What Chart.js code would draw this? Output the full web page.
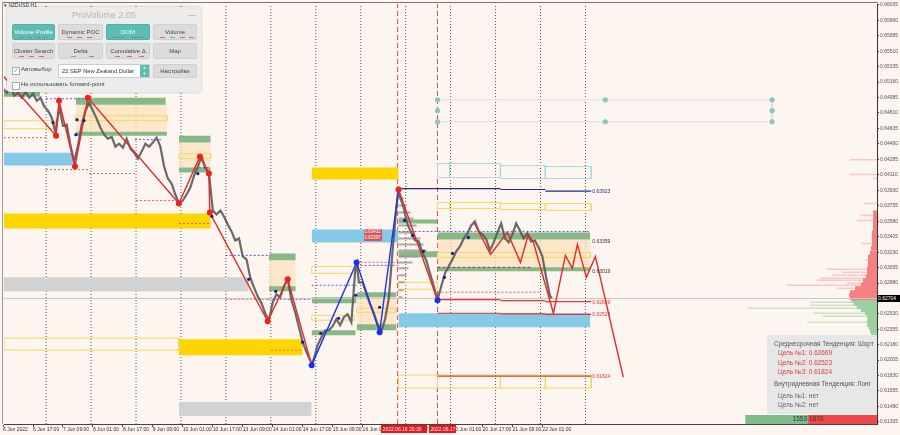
<!DOCTYPE html>
<html>
<head>
<meta charset="utf-8">
<script src="https://cdn.jsdelivr.net/npm/chart.js@4.4.0/dist/chart.umd.min.js"></script>
<style>
  body { margin: 0; background: #fdf5f0; font-family: "Liberation Sans", Arial, sans-serif; }
  #wrap { position: relative; width: 900px; height: 435px; overflow: hidden; background: #fdf5f0; }
  #chart { position: absolute; left: 0; top: 0; }
  #frame { position: absolute; left: 2px; top: 2px; width: 875px; height: 421px; border-top: 1px solid #777; border-left: 1px solid #999; pointer-events: none; }
  .tag { position: absolute; white-space: nowrap; font-size: 5px; line-height: 6px; }
  .evt { position: absolute; top: 425px; height: 8px; line-height: 8px; background: #e8151b; color: #fff; font-size: 5px; overflow: hidden; white-space: nowrap; padding-left: 2px; box-sizing: border-box; }
  #sym { position: absolute; left: 4px; top: 2px; font-size: 5px; color: #333; }
  #panel { position: absolute; left: 7px; top: 7px; width: 194px; height: 85px; background: #ececec; border-radius: 3px; box-shadow: 0 0 3px rgba(0,0,0,0.25); }
  #panel .ttl { position: absolute; left: 0; top: 3px; width: 100%; text-align: center; font-size: 9px; color: #b4b4b4; }
  #panel .min { position: absolute; right: 5px; top: 3px; font-size: 8px; color: #999; }
  .btn { position: absolute; height: 16px; line-height: 15px; text-align: center; font-size: 6px; color: #444; background: #dcdcdc; border: 1px solid #d0d0d0; border-radius: 2px; box-sizing: border-box; white-space: nowrap; overflow: hidden; }
  .btn.on { background: #5cbdb2; color: #fff; border-color: #52b1a6; }
  .btn i { position: absolute; bottom: 1px; height: 1px; width: 5px; background: #d66; }
  .btn i.g { background: #6b6; }
  .btn i.k { background: #888; }
  .chk { position: absolute; width: 6px; height: 6px; background: #fff; border: 1px solid #aaa; overflow: hidden; }
  .txt { position: absolute; font-size: 6px; color: #444; white-space: nowrap; }
  #drop { position: absolute; left: 51px; top: 57px; width: 92px; height: 14px; background: #fff; border: 1px solid #ccc; box-sizing: border-box; font-size: 5.8px; line-height: 12px; padding-left: 3px; color: #333; white-space: nowrap; overflow: hidden; }
  #drop span { position: absolute; right: 0; top: 0; width: 9px; height: 12px; background: #5cbdb2; color: #fff; font-size: 4px; line-height: 6px; text-align: center; }
  #info { position: absolute; left: 767px; top: 335px; width: 110px; height: 79px; background: #e7e7e7; border-radius: 4px 0 0 0; font-size: 6.4px; }
  #info div { position: absolute; white-space: nowrap; }
  .vol { position: absolute; top: 415px; font-size: 6.5px; color: #333; }
</style>
</head>
<body>
<div id="wrap">
  <canvas id="chart" width="900" height="435"></canvas>
  <div id="frame"></div>
  <div id="sym">&#9662; NZDUSD,H1</div>
  <div id="panel">
    <div class="ttl">ProVolume 2.05</div>
    <div class="min">&#8212;</div>
    <div class="btn on" style="left:5px;top:17px;width:43px">Volume Profile<i class="k" style="left:6px"></i><i class="k" style="left:14px"></i><i class="k" style="left:22px"></i><i class="k" style="left:30px"></i></div>
    <div class="btn" style="left:51px;top:17px;width:45px">Dynamic POC<i style="left:8px"></i><i style="left:18px"></i><i style="left:28px"></i></div>
    <div class="btn on" style="left:99px;top:17px;width:44px">DOM<i class="k" style="left:6px;width:12px"></i><i class="k" style="left:24px;width:12px"></i></div>
    <div class="btn" style="left:146px;top:17px;width:44px">Volume<i style="left:6px"></i><i class="g" style="left:16px"></i><i style="left:26px"></i><i style="left:35px"></i></div>
    <div class="btn" style="left:5px;top:36px;width:43px">Cluster Search<i style="left:6px"></i><i style="left:16px"></i><i style="left:26px"></i></div>
    <div class="btn" style="left:51px;top:36px;width:45px">Delta<i class="g" style="left:12px"></i><i style="left:30px"></i></div>
    <div class="btn" style="left:99px;top:36px;width:44px">Cumulative &#916;<i style="left:8px"></i><i style="left:20px"></i><i style="left:32px"></i></div>
    <div class="btn" style="left:146px;top:36px;width:44px">Map</div>
    <div class="chk" style="left:5px;top:60px;color:#5cbdb2;font-size:7px;line-height:6px">&#10003;</div>
    <div class="txt" style="left:14px;top:59px">Автовыбор</div>
    <div id="drop">22 SEP New Zealand Dollar<span>&#9650;<br>&#9660;</span></div>
    <div class="btn" style="left:146px;top:57px;width:44px;height:14px;line-height:13px">Настройки</div>
    <div class="chk" style="left:5px;top:75px"></div>
    <div class="txt" style="left:14px;top:74px">Не использовать forward-point</div>
  </div>
  <div id="info">
    <div style="left:7px;top:5px;color:#555">Среднесрочная Тенденция: Шорт</div>
    <div id="t1" style="left:11px;top:14px;color:#e23a3a"></div>
    <div id="t2" style="left:11px;top:24px;color:#e23a3a"></div>
    <div id="t3" style="left:11px;top:33px;color:#e23a3a"></div>
    <div style="left:7px;top:45px;color:#555">Внутридневная Тенденция: Лонг</div>
    <div style="left:11px;top:57px;color:#666">Цель №1: нет</div>
    <div style="left:11px;top:66px;color:#666">Цель №2: нет</div>
  </div>
</div>
<script>
// axis range: x = H1 bar index, y = price
const xMin = 0.5;
const xMax = 466.7;
const yMin = 0.6128;
const yMax = 0.66046;

const yTicks = [0.66035, 0.6586, 0.65685, 0.6551, 0.65335, 0.6516, 0.64985, 0.6481, 0.64635, 0.6446, 0.64285, 0.6411, 0.6393, 0.63755, 0.6358, 0.63405, 0.6323, 0.63055, 0.6288, 0.6253, 0.62355, 0.6218, 0.62005, 0.6183, 0.61655, 0.6148, 0.61305];
const xTickBars = [0, 16, 32, 48, 64, 80, 96, 112, 128, 144, 160, 176, 192, 208, 224, 240, 256, 272, 288];
const xTickLabels = ["6 Jun 2022", "6 Jun 17:00", "7 Jun 09:00", "8 Jun 01:00", "8 Jun 17:00", "9 Jun 09:00", "10 Jun 01:00", "10 Jun 17:00", "13 Jun 09:00", "14 Jun 01:00", "14 Jun 17:00", "15 Jun 09:00", "16 Jun 01:00", "16 Jun 17:00", "17 Jun 09:00", "20 Jun 01:00", "20 Jun 17:00", "21 Jun 09:00", "22 Jun 01:00"];
const daySeparators = [23, 47, 71, 95, 119, 143, 167, 191, 215, 239, 263, 287, 311];
const eventBars = [210.7, 232];
const eventLabels = ["2022.06.16 20:30", "2022.06.17 17:30"];

const priceSeries = [
  [0, 0.65084], [2, 0.65039], [4, 0.65107], [6, 0.65005], [8, 0.65039], [10, 0.64982], [12, 0.6505], [14, 0.64982],
  [16, 0.65027], [18, 0.64948], [20, 0.64982], [22, 0.6488], [24, 0.64835], [26, 0.64756], [28, 0.64586], [30, 0.6488],
  [32, 0.64665], [34, 0.64676], [36, 0.64439], [38, 0.64258], [40, 0.64439], [42, 0.64676], [44, 0.64835], [46, 0.64925],
  [48, 0.64835], [50, 0.64744], [52, 0.64642], [54, 0.64563], [56, 0.64518], [58, 0.6454], [60, 0.64427], [62, 0.64461],
  [64, 0.64416], [66, 0.64518], [68, 0.64405], [70, 0.64359], [72, 0.64291], [74, 0.64371], [76, 0.64461], [78, 0.64427],
  [80, 0.64473], [82, 0.64529], [84, 0.64427], [86, 0.64201], [88, 0.64065], [90, 0.64008], [92, 0.63884], [94, 0.63782],
  [96, 0.63816], [98, 0.63884], [100, 0.63963], [102, 0.64099], [104, 0.64201], [106, 0.64314], [108, 0.6419], [110, 0.64122],
  [112, 0.63703], [114, 0.63658], [116, 0.63703], [118, 0.63635], [120, 0.63544], [122, 0.63465], [124, 0.63363], [126, 0.63386],
  [128, 0.63182], [130, 0.63148], [132, 0.62944], [134, 0.62831], [136, 0.62729], [138, 0.6265], [140, 0.62537], [142, 0.62458],
  [144, 0.62661], [146, 0.62752], [148, 0.62718], [150, 0.62843], [152, 0.62922], [154, 0.62684], [156, 0.62548], [158, 0.62378],
  [160, 0.62209], [162, 0.62095], [164, 0.62005], [165, 0.61948], [166, 0.62027], [168, 0.62175], [170, 0.62265], [172, 0.62344],
  [174, 0.62344], [176, 0.6239], [178, 0.62469], [180, 0.62401], [182, 0.62492], [184, 0.62526], [186, 0.62435], [188, 0.63001],
  [189, 0.63092], [190, 0.62888], [192, 0.62888], [194, 0.62763], [196, 0.62639], [198, 0.62537], [200, 0.62412], [202, 0.62333],
  [204, 0.62469], [206, 0.62707], [208, 0.6325], [210, 0.63725], [211, 0.6393], [212, 0.63861], [214, 0.63725], [216, 0.63544],
  [218, 0.63454], [220, 0.63363], [222, 0.63352], [224, 0.63216], [226, 0.63137], [228, 0.6299], [230, 0.62843], [232, 0.62684],
  [234, 0.62843], [236, 0.6299], [238, 0.63069], [240, 0.63148], [242, 0.63239], [244, 0.63295], [246, 0.63386], [248, 0.63442],
  [250, 0.63533], [252, 0.63578], [254, 0.63465], [256, 0.63431], [258, 0.63375], [260, 0.6325], [262, 0.63341], [264, 0.63454],
  [266, 0.63556], [268, 0.63386], [270, 0.63341], [272, 0.63431], [274, 0.63556], [276, 0.63476], [278, 0.63386], [280, 0.63442],
  [282, 0.63352], [284, 0.63363], [286, 0.63284], [288, 0.63182], [290, 0.62944], [292, 0.62741], [293, 0.62704]
];
const lastPrice = 0.62704;

// zigzags
const zigzagRed1 = [[0, 0.65231], [28.3, 0.64552], [29.9, 0.64948], [38.4, 0.64201], [45.3, 0.64982], [93.9, 0.63782], [105.1, 0.64314], [109.9, 0.64122], [110.4, 0.6368], [141.3, 0.62446], [152, 0.62922], [164.8, 0.61948]];
const zigzagBlue = [[164.8, 0.61948], [188.8, 0.63114], [201.1, 0.62322], [211.2, 0.63941]];
const zigzagRed2 = [[211.2, 0.63941], [232, 0.62684]];
const zigzagRed3 = [[251.2, 0.63578], [260.3, 0.63205], [269.3, 0.63454], [276.3, 0.63114], [280.5, 0.63431], [283.2, 0.63341], [293.9, 0.62537], [300.3, 0.63193], [304, 0.63046], [306.7, 0.63318], [311.5, 0.62944], [316.3, 0.63182], [331.2, 0.61812]];
const redDots = [[28.3, 0.64552], [29.9, 0.64948], [38.4, 0.64201], [45.3, 0.64982], [93.9, 0.63782], [105.1, 0.64314], [109.9, 0.64122], [110.4, 0.6368], [141.3, 0.62446], [152, 0.62922], [211.2, 0.63941]];
const blueDots = [[164.8, 0.61948], [188.8, 0.63114], [201.1, 0.62322], [232, 0.62684]];
const pivotDots = [[26.7, 0.64699], [38.9, 0.64563], [39.5, 0.64733], [43.2, 0.64722], [104, 0.64122], [111.5, 0.63635], [131.2, 0.62922], [145.6, 0.62786], [160, 0.62209], [169.6, 0.6231], [179.2, 0.6248], [188.3, 0.62741], [201.1, 0.62605], [214.4, 0.6359], [218.7, 0.6342], [224.5, 0.63239], [235.7, 0.62944], [240, 0.63216], [248.5, 0.63397]];

// zones: [fromBar, toBar, low, high]
const greenZones = [[0.5, 19.7, 0.64993, 0.65061], [38.9, 86.9, 0.64903, 0.64982], [38.9, 87.5, 0.64552, 0.64597], [93.9, 110.9, 0.64473, 0.64552], [93.9, 110.9, 0.64133, 0.6419], [141.9, 156.3, 0.63137, 0.63216], [141.9, 156.3, 0.62786, 0.62843], [164.8, 188.8, 0.6265, 0.62718], [164.8, 188.3, 0.62288, 0.62344], [188.8, 210.1, 0.62718, 0.62775], [188.8, 210.1, 0.62344, 0.62412], [211.2, 232, 0.63556, 0.63601], [211.2, 232, 0.63171, 0.63239], [232, 313.6, 0.63375, 0.63454], [232, 313.6, 0.63012, 0.63058]];
const peachZones = [[38.9, 87.5, 0.64597, 0.64903], [93.9, 110.9, 0.6419, 0.64473], [141.9, 156.3, 0.62843, 0.63137], [188.8, 210.1, 0.62412, 0.62718], [232, 313.6, 0.63058, 0.63375]];
const goldZones = [[0.5, 110.9, 0.63499, 0.63669], [93.9, 160, 0.62061, 0.62243], [164.8, 211.2, 0.64054, 0.6419]];
const blueZones = [[0.5, 37.3, 0.64212, 0.64359], [164.8, 211.2, 0.63341, 0.63488], [211.2, 313.6, 0.62378, 0.62537]];
const grayZones = [[0.5, 131.2, 0.62786, 0.62944], [93.9, 164.8, 0.61371, 0.61529]];
const yellowBoxes = [[0.5, 28.3, 0.64631, 0.64722], [38.4, 87.5, 0.64722, 0.64778], [93.9, 110.9, 0.64291, 0.64348], [0.5, 93.9, 0.62118, 0.62254], [164.8, 187.7, 0.6299, 0.63069], [164.8, 187.7, 0.62458, 0.62514], [188.8, 210.1, 0.62548, 0.62593], [232, 238.4, 0.63725, 0.63793], [238.4, 265.6, 0.63725, 0.63793], [265.6, 289.6, 0.63714, 0.63782], [289.6, 314.1, 0.63703, 0.63782], [232, 313.6, 0.63171, 0.63227], [211.2, 232, 0.61688, 0.61835], [232, 265.6, 0.61688, 0.61835], [265.6, 289.6, 0.61688, 0.61835], [289.6, 314.1, 0.61688, 0.61835], [211.2, 232, 0.62809, 0.62888]];
const cyanBoxes = [[232, 238.4, 0.64076, 0.64235], [238.4, 265.6, 0.64076, 0.64235], [265.6, 289.6, 0.64065, 0.64212], [289.6, 314.1, 0.64065, 0.64201]];

// levels: [fromBar, toBar, price]
const blueDotted = [[22.9, 46.9, 0.64971], [70.4, 84.3, 0.64507], [104.5, 110.9, 0.6419], [118.9, 141.9, 0.63193], [141.3, 164.8, 0.62695], [164.8, 188.8, 0.62854], [188.8, 211.2, 0.6308], [211.2, 313.6, 0.63465]];
const redDotted = [[0.5, 22.9, 0.64529], [22.9, 45.9, 0.64167], [45.9, 70.4, 0.64122], [70.9, 93.3, 0.63816], [93.9, 110.9, 0.63556], [118.9, 141.3, 0.62695], [142.9, 160, 0.62118], [188.8, 212.3, 0.63114], [232, 286.9, 0.62775]];
const brownDashed = [[232, 281.6, 0.63058]];
const navyLevel = [[211.2, 265.6, 0.63952], [265.6, 289.6, 0.63941], [289.6, 314.1, 0.63923]];
const target1 = [[232, 265.6, 0.62692], [265.6, 289.6, 0.6268], [289.6, 314.1, 0.62669]];
const target2 = [[232, 265.6, 0.62537], [265.6, 289.6, 0.6253], [289.6, 314.1, 0.62523]];
const target3 = [[232, 314.1, 0.61824]];
const targetValues = [0.62669, 0.62523, 0.61824];
const zoneLabels = [0.63923, 0.63359, 0.63019];
const labelBar = 314.1;
const markerLabels = ["0.63432", "0.63397"];
const markerPrices = [0.63488, 0.6342];
const markerBar = 192.5;

// fibo-like grey levels with handles
const fiboBars = [232, 321.6, 410.7];
const fiboTop = 0.64959;
const fiboMid = 0.64835;
const fiboBot = 0.6471;

// session cluster profile at the event line: [price, length in bars]
const clusterProfile = [[0.63839, 2.7], [0.63759, 4.3], [0.6368, 6.4], [0.63612, 8], [0.63533, 9.6], [0.63454, 8.5], [0.63386, 11.7], [0.63318, 13.3], [0.6325, 15], [0.63182, 10.7], [0.63114, 7.5], [0.63046, 5.3], [0.62967, 4.3], [0.62888, 3.2], [0.62797, 2.7], [0.62718, 2.1]];
const clusterStart = 211.2;

// right-side volume profile: [price, length in bars]
const sellCore = [[0.6368, 2.1], [0.63635, 2.1], [0.6359, 2.1], [0.63544, 2.1], [0.63499, 2.1], [0.63454, 2.7], [0.63408, 2.7], [0.63363, 2.7], [0.63318, 2.7], [0.63273, 3.2], [0.63227, 3.7], [0.63182, 4.8], [0.63137, 4.8], [0.63092, 4.8], [0.63046, 5.3], [0.63001, 5.3], [0.62956, 5.9], [0.6291, 7.5], [0.62865, 8.5], [0.6282, 11.7], [0.62775, 14.4], [0.62741, 14.9], [0.62707, 14.4]];
const sellSpikes = [[0.6428, 14.4], [0.6411, 14.9], [0.64065, 2.1], [0.63782, 6.9], [0.63646, 9.1], [0.6359, 10.7], [0.63329, 8.5], [0.63137, 6.4], [0.63035, 26.7], [0.63001, 18.7], [0.62967, 24], [0.62933, 30.4], [0.6291, 32], [0.62876, 16], [0.62854, 48], [0.6282, 21.3]];
const buyCore = [[0.62673, 13.3], [0.62639, 12.3], [0.62605, 10.7], [0.62572, 8.5], [0.62537, 6.4], [0.62503, 5.3], [0.62469, 5.3], [0.62435, 5.3], [0.62401, 5.3], [0.62367, 4.3], [0.62333, 3.7], [0.62299, 3.2], [0.62265, 2.7], [0.62231, 2.1]];
const buySpikes = [[0.62661, 35.7], [0.62627, 35.7], [0.62593, 69.3], [0.62537, 34], [0.62503, 28.8], [0.62435, 37.3]];
const buyVolume = 1553;
const sellVolume = 1676;
const volumeBars = [396.3, 429.9, 466.7];
const volumeRange = [0.6128, 0.61382];

function pts(list) {
  return list.map((p) => ({ x: p[0], y: p[1] }));
}

function levelPoints(list) {
  const out = [];
  for (const s of list) {
    out.push({ x: s[0], y: s[2] }, { x: s[1], y: s[2] }, { x: s[1], y: null });
  }
  return out;
}

function profilePoints(list, start, toRight) {
  const out = [];
  for (const p of list) {
    if (toRight) out.push({ x: start, y: p[0] }, { x: start + p[1], y: p[0] });
    else out.push({ x: xMax - p[1], y: p[0] }, { x: xMax, y: p[0] });
    out.push({ x: xMax, y: null });
  }
  return out;
}

function verticalPoints(xs) {
  const out = [];
  for (const x of xs) out.push({ x: x, y: yMin }, { x: x, y: yMax }, { x: x, y: null });
  return out;
}

function zoneSet(list, color, order) {
  return list.map((z) => ({
    data: [{ x: z[0], y: z[3] }, { x: z[1], y: z[3] }],
    borderColor: "transparent",
    borderWidth: 0,
    backgroundColor: color,
    fill: { value: z[2] },
    pointRadius: 0,
    order: order,
  }));
}

function boxSet(list, color, order) {
  return list.map((z) => ({
    data: [
      { x: z[0], y: z[3] }, { x: z[1], y: z[3] }, { x: z[1], y: z[2] },
      { x: z[0], y: z[2] }, { x: z[0], y: z[3] },
    ],
    borderColor: color,
    borderWidth: 1,
    fill: false,
    pointRadius: 0,
    order: order,
  }));
}

function lineSet(data, color, width, dash, order) {
  return {
    data: data,
    borderColor: color,
    borderWidth: width,
    borderDash: dash || [],
    fill: false,
    pointRadius: 0,
    spanGaps: false,
    order: order,
  };
}

function dotSet(list, color, radius, order) {
  return {
    data: pts(list),
    showLine: false,
    pointRadius: radius,
    pointBackgroundColor: color,
    pointBorderWidth: 0,
    order: order,
  };
}

const datasets = [].concat(
  lineSet(verticalPoints(daySeparators), "#555", 1, [1, 2], 100),
  lineSet(verticalPoints(eventBars), "#e34b4b", 1, [5, 3], 99),
  zoneSet(peachZones, "rgba(252,226,190,0.75)", 90),
  zoneSet(grayZones, "#d2d2d2", 85),
  zoneSet(goldZones, "#ffd500", 85),
  zoneSet(blueZones, "#84c9e6", 85),
  zoneSet(greenZones, "#86b986", 84),
  zoneSet([[volumeBars[0], volumeBars[1], volumeRange[0], volumeRange[1]]], "#7dbb8a", 84),
  zoneSet([[volumeBars[1], volumeBars[2], volumeRange[0], volumeRange[1]]], "#f04848", 84),
  boxSet(yellowBoxes, "#f3d664", 80),
  boxSet(cyanBoxes, "#a9d6e5", 80),
  lineSet(levelPoints([[fiboBars[0], fiboBars[2], fiboTop], [fiboBars[0], fiboBars[2], fiboBot]]).concat([{ x: fiboBars[2], y: fiboTop }, { x: fiboBars[2], y: fiboBot }]), "#dcdcdc", 1, null, 78),
  lineSet(levelPoints(blueDotted), "#5a5ad6", 1, [2, 2], 75),
  lineSet(levelPoints(redDotted), "#e06060", 1, [2, 2], 75),
  lineSet(levelPoints(brownDashed), "#8a3b3b", 1, [3, 2], 75),
  lineSet(profilePoints(clusterProfile, clusterStart, true), "rgba(150,150,150,0.8)", 2, null, 72),
  lineSet(profilePoints(sellSpikes), "rgba(240,120,120,0.35)", 1.5, null, 71),
  lineSet(profilePoints(buySpikes), "rgba(120,190,130,0.35)", 1.5, null, 71),
  lineSet(profilePoints(sellCore), "#f48080", 4, null, 70),
  lineSet(profilePoints(buyCore), "#9ccfa2", 3.5, null, 70),
  lineSet(levelPoints([[xMin, xMax, lastPrice]]), "#c8c8c8", 1, null, 60),
  lineSet(pts(priceSeries), "rgba(90,90,90,0.9)", 2.2, null, 40),
  lineSet(levelPoints(navyLevel), "#2a2a80", 1.2, null, 30),
  lineSet(levelPoints(target1), "#e53535", 1.2, null, 30),
  lineSet(levelPoints(target2), "#e53535", 1.2, null, 30),
  lineSet(levelPoints(target3), "#e53535", 1.2, null, 30),
  lineSet(pts(zigzagRed1), "#e22a2a", 1.4, null, 20),
  lineSet(pts(zigzagRed2), "#e22a2a", 1.4, null, 20),
  lineSet(pts(zigzagRed3), "#e22a2a", 1.4, null, 20),
  lineSet(pts(zigzagBlue), "#1f33e6", 1.4, null, 20),
  dotSet(pivotDots, "#1a1a80", 1.6, 12),
  dotSet(redDots, "#ef2020", 3, 10),
  dotSet(blueDots, "#1a2ef0", 3, 10),
  dotSet([[fiboBars[0], fiboTop], [fiboBars[1], fiboTop], [fiboBars[2], fiboTop], [fiboBars[0], fiboMid], [fiboBars[2], fiboMid], [fiboBars[0], fiboBot], [fiboBars[1], fiboBot], [fiboBars[2], fiboBot]], "#8cc6bd", 2.6, 10)
);

const tickFont = { family: "Liberation Sans", size: 5 };

const chart = new Chart(document.getElementById("chart"), {
  type: "line",
  data: { datasets: datasets },
  options: {
    responsive: false,
    animation: false,
    devicePixelRatio: 1,
    events: [],
    layout: { padding: { top: 3, left: 3, right: 0, bottom: 0 } },
    elements: { line: { tension: 0 } },
    plugins: { legend: { display: false }, tooltip: { enabled: false } },
    scales: {
      x: {
        type: "linear",
        min: xMin,
        max: xMax,
        afterBuildTicks: (scale) => {
          scale.ticks = xTickBars.map((v) => ({ value: v }));
        },
        afterFit: (scale) => {
          scale.height = 11;
        },
        ticks: {
          autoSkip: false,
          maxRotation: 0,
          minRotation: 0,
          align: "start",
          padding: 0,
          color: "#333",
          font: tickFont,
          callback: (v, i) => xTickLabels[i],
        },
        grid: { drawOnChartArea: false, tickLength: 3, color: "#444" },
        border: { color: "#444", width: 1 },
      },
      y: {
        type: "linear",
        position: "right",
        min: yMin,
        max: yMax,
        afterBuildTicks: (scale) => {
          scale.ticks = yTicks.map((v) => ({ value: v }));
        },
        afterFit: (scale) => {
          scale.width = 23;
        },
        ticks: {
          autoSkip: false,
          padding: 1,
          color: "#555",
          font: tickFont,
          callback: (v) => v.toFixed(5),
        },
        grid: { drawOnChartArea: false, tickLength: 2, color: "#444" },
        border: { color: "#333", width: 1 },
      },
    },
  },
});

// text overlays placed through the chart scales
const wrap = document.getElementById("wrap");
const sx = chart.scales.x;
const sy = chart.scales.y;

function tag(text, left, top, css) {
  const d = document.createElement("div");
  d.className = "tag";
  d.textContent = text;
  d.style.left = left + "px";
  d.style.top = top + "px";
  Object.assign(d.style, css || {});
  wrap.appendChild(d);
  return d;
}

const lx = sx.getPixelForValue(labelBar) + 1;
tag(zoneLabels[0].toFixed(5), lx, sy.getPixelForValue(zoneLabels[0]) - 3, { color: "#2a2a80" });
tag(zoneLabels[1].toFixed(5), lx, sy.getPixelForValue(zoneLabels[1]) - 3, { color: "#333" });
tag(zoneLabels[2].toFixed(5), lx, sy.getPixelForValue(zoneLabels[2]) - 3, { color: "#333" });
targetValues.forEach((v) => {
  tag(v.toFixed(5), lx, sy.getPixelForValue(v) - 3, { color: "#e53535" });
});
markerLabels.forEach((t, i) => {
  tag(t, sx.getPixelForValue(markerBar), sy.getPixelForValue(markerPrices[i]), {
    background: "#d9545a", color: "#fff", padding: "0 1px", fontSize: "4.5px",
  });
});

tag(lastPrice.toFixed(5), 877, sy.getPixelForValue(lastPrice) - 3.5, {
  background: "#000", color: "#fff", width: "23px", height: "7px", lineHeight: "7px", paddingLeft: "1px",
});

const ev1 = document.createElement("div");
ev1.className = "evt";
ev1.textContent = eventLabels[1];
ev1.style.left = sx.getPixelForValue(eventBars[1]) - 9 + "px";
ev1.style.width = "27px";
wrap.appendChild(ev1);
const ev0 = document.createElement("div");
ev0.className = "evt";
ev0.textContent = eventLabels[0];
ev0.style.left = sx.getPixelForValue(eventBars[0]) - 17 + "px";
ev0.style.width = "46px";
wrap.appendChild(ev0);

const split = sx.getPixelForValue(volumeBars[1]);
const vb = document.createElement("div");
vb.className = "vol";
vb.textContent = buyVolume;
vb.style.right = 900 - split + 1 + "px";
wrap.appendChild(vb);
const vs = document.createElement("div");
vs.className = "vol";
vs.textContent = sellVolume;
vs.style.left = split + 1 + "px";
wrap.appendChild(vs);

document.getElementById("t1").textContent = "Цель №1: " + targetValues[0].toFixed(5);
document.getElementById("t2").textContent = "Цель №2: " + targetValues[1].toFixed(5);
document.getElementById("t3").textContent = "Цель №3: " + targetValues[2].toFixed(5);
</script>
</body>
</html>
